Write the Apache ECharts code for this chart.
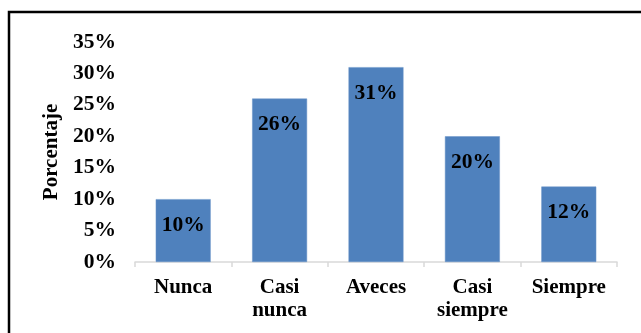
<!DOCTYPE html>
<html>
<head>
<meta charset="utf-8">
<style>
  html, body { margin: 0; padding: 0; background: #fff; }
  #chart { width: 641px; height: 333px; }
</style>
<script src="https://cdn.jsdelivr.net/npm/echarts@6/dist/echarts.min.js"></script>
</head>
<body>
<div id="chart"></div>
<script>
// Response categories (two-line labels where the source wraps them)
const categories = ['Nunca', 'Casi\nnunca', 'Aveces', 'Casi\nsiempre', 'Siempre'];
// Share of responses per category, in percent
const percentages = [10, 26, 31, 20, 12];
// Value axis range and step, in percent
const yMin = 0;
const yMax = 35;
const yStep = 5;

const serif = '"Liberation Serif", "Times New Roman", serif';

const chart = echarts.init(document.getElementById('chart'), null, { renderer: 'canvas' });

chart.setOption({
  backgroundColor: '#ffffff',
  animation: false,
  graphic: [{
    type: 'rect',
    silent: true,
    shape: { x: 9, y: 12, width: 700, height: 400 },
    style: { fill: 'none', stroke: '#000000', lineWidth: 2.5 }
  }],
  grid: { left: 135, right: 24, top: 42, bottom: 71 },
  xAxis: {
    type: 'category',
    data: categories,
    boundaryGap: true,
    axisLine: { show: true, lineStyle: { color: '#d9d9d9', width: 1.5 } },
    axisTick: { show: true, length: 5, alignWithLabel: false, lineStyle: { color: '#d9d9d9', width: 1.5 } },
    axisLabel: {
      color: '#000',
      fontFamily: serif,
      fontWeight: 'bold',
      fontSize: 21,
      lineHeight: 23,
      margin: 14,
      interval: 0
    }
  },
  yAxis: {
    type: 'value',
    min: yMin,
    max: yMax,
    interval: yStep,
    name: 'Porcentaje',
    nameLocation: 'middle',
    nameRotate: 90,
    nameGap: 62,
    nameTextStyle: { color: '#000', fontFamily: serif, fontWeight: 'bold', fontSize: 21 },
    axisLine: { show: false },
    axisTick: { show: false },
    splitLine: { show: false },
    axisLabel: {
      color: '#000',
      fontFamily: serif,
      fontWeight: 'bold',
      fontSize: 21.5,
      margin: 19,
      formatter: v => v + '%'
    }
  },
  series: [{
    type: 'bar',
    data: percentages,
    barCategoryGap: '43%',
    itemStyle: { color: '#4f81bd', borderColor: '#6a95c9', borderWidth: 0.5 },
    label: {
      show: true,
      position: 'insideTop',
      distance: 15,
      color: '#000',
      fontFamily: serif,
      fontWeight: 'bold',
      fontSize: 21.5,
      formatter: p => p.value + '%'
    }
  }]
});
</script>
</body>
</html>
